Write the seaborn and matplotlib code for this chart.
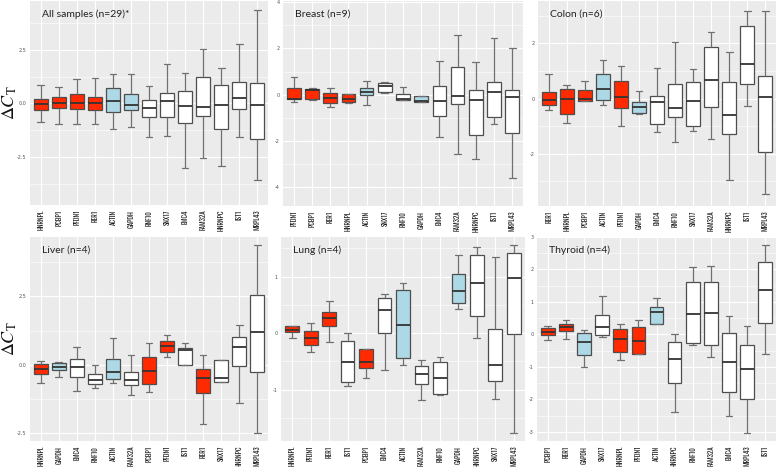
import numpy as np
import pandas as pd
import matplotlib
matplotlib.use("Agg")
import matplotlib.pyplot as plt
from matplotlib import font_manager
from matplotlib.ticker import MultipleLocator
import seaborn as sns

# five-number summaries: low whisker, Q1, median, Q3, high whisker
all_genes = ["HNRNPL", "PCBP1", "PFDN1", "RER1", "ACTIN", "GAPDH", "RNF10",
             "SNX17", "EMC4", "FAM32A", "HNRNPC", "IST1", "MRPL43"]
all_lo = [-0.89, -0.98, -0.98, -0.98, -1.18, -1.12, -1.55, -1.52, -3.01, -2.56, -2.92, -1.58, -3.57]
all_q1 = [-0.31, -0.22, -0.28, -0.31, -0.42, -0.30, -0.65, -0.65, -0.93, -0.59, -1.18, -0.28, -1.68]
all_med = [-0.03, 0.03, 0.0, 0.0, 0.12, -0.06, -0.23, 0.11, -0.14, -0.17, -0.09, 0.23, -0.09]
all_q3 = [0.20, 0.28, 0.42, 0.31, 0.73, 0.43, 0.16, 0.48, 0.56, 1.23, 0.85, 1.01, 0.93]
all_hi = [0.84, 0.78, 1.15, 1.20, 1.38, 1.38, 0.81, 1.86, 1.43, 2.55, 1.66, 2.75, 4.35]

breast_genes = ["PFDN1", "PCBP1", "RER1", "HNRNPL", "ACTIN", "SNX17", "RNF10",
                "GAPDH", "EMC4", "FAM32A", "HNRNPC", "IST1", "MRPL43"]
breast_lo = [-0.29, -0.23, -0.54, -0.37, -0.46, 0.07, -0.21, -0.30, -1.84, -2.57, -2.76, -1.24, -3.59]
breast_q1 = [-0.20, -0.17, -0.36, -0.30, -0.01, 0.10, -0.21, -0.30, -0.91, -0.40, -1.73, -0.96, -1.67]
breast_med = [-0.17, 0.20, -0.13, -0.19, 0.10, 0.39, -0.19, -0.26, -0.26, -0.06, -0.21, 0.11, -0.11]
breast_q3 = [0.29, 0.27, 0.07, 0.03, 0.29, 0.50, 0.03, -0.07, 0.39, 1.21, 0.21, 0.57, 0.19]
breast_hi = [0.76, 0.30, 0.29, 0.05, 0.59, 0.56, 0.33, -0.07, 1.44, 2.59, 1.41, 2.47, 2.00]

colon_genes = ["RER1", "HNRNPL", "PCBP1", "ACTIN", "PFDN1", "GAPDH", "EMC4",
               "RNF10", "SNX17", "FAM32A", "HNRNPC", "IST1", "MRPL43"]
colon_lo = [-0.43, -0.90, -0.10, -0.25, -0.98, -0.57, -1.20, -1.58, -1.16, -1.45, -2.95, -0.28, -3.45]
colon_q1 = [-0.25, -0.55, -0.10, -0.06, -0.34, -0.52, -0.94, -0.66, -1.01, -0.30, -1.30, 0.54, -1.92]
colon_med = [-0.07, 0.0, -0.02, 0.33, 0.07, -0.31, -0.14, -0.33, -0.08, 0.66, -0.59, 1.25, 0.07]
colon_q3 = [0.23, 0.33, 0.30, 0.88, 0.65, -0.12, 0.10, 0.53, 0.60, 1.88, 0.61, 2.61, 0.83]
colon_hi = [0.89, 0.49, 0.63, 1.40, 1.16, 0.29, 1.11, 2.05, 1.08, 2.40, 1.69, 3.18, 3.18]

liver_genes = ["HNRNPL", "GAPDH", "EMC4", "RNF10", "ACTIN", "FAM32A", "PCBP1",
               "PFDN1", "IST1", "RER1", "SNX17", "HNRNPC", "MRPL43"]
liver_lo = [-0.67, -0.45, -0.95, -0.84, -0.67, -1.10, -0.99, 0.27, -0.01, -2.16, -0.63, -1.41, -2.49]
liver_q1 = [-0.34, -0.18, -0.43, -0.70, -0.52, -0.73, -0.70, 0.46, -0.01, -1.04, -0.61, -0.05, -0.27]
liver_med = [-0.16, -0.06, -0.09, -0.55, -0.26, -0.54, -0.23, 0.68, 0.55, -0.48, -0.49, 0.65, 1.21]
liver_q3 = [0.02, 0.07, 0.23, -0.34, 0.22, -0.27, 0.28, 0.87, 0.60, -0.15, 0.17, 1.00, 2.55]
liver_hi = [0.15, 0.09, 0.66, 0.01, 0.98, 0.37, 0.79, 1.09, 0.79, 0.35, 0.17, 1.44, 4.37]

lung_genes = ["HNRNPL", "PFDN1", "RER1", "IST1", "PCBP1", "EMC4", "ACTIN",
              "FAM32A", "RNF10", "GAPDH", "HNRNPC", "SNX17", "MRPL43"]
lung_lo = [-0.08, -0.33, -0.15, -0.93, -0.80, -0.65, -0.56, -1.19, -1.09, 0.43, -0.09, -1.17, -1.76]
lung_q1 = [0.02, -0.22, 0.12, -0.87, -0.62, 0.01, -0.45, -0.91, -1.07, 0.53, 0.30, -0.85, -0.02]
lung_med = [0.06, -0.09, 0.27, -0.52, -0.51, 0.41, 0.15, -0.72, -0.80, 0.75, 0.89, -0.56, 0.97]
lung_q3 = [0.13, 0.04, 0.38, -0.14, -0.28, 0.62, 0.76, -0.59, -0.51, 1.05, 1.38, 0.07, 1.42]
lung_hi = [0.13, 0.17, 0.56, 0.01, -0.28, 0.70, 0.89, -0.47, -0.43, 1.38, 1.53, 1.35, 1.55]

thyroid_genes = ["PCBP1", "RER1", "GAPDH", "SNX17", "HNRNPL", "PFDN1", "ACTIN",
                 "HNRNPC", "RNF10", "FAM32A", "EMC4", "MRPL43", "IST1"]
thyroid_lo = [-0.17, -0.13, -1.01, -0.08, -0.79, -0.59, 0.31, -2.38, -0.31, -0.69, -2.50, -3.03, -0.61]
thyroid_q1 = [-0.03, 0.11, -0.62, -0.03, -0.54, -0.59, 0.31, -1.50, -0.25, -0.31, -1.77, -1.99, 0.35]
thyroid_med = [0.08, 0.24, -0.23, 0.22, -0.14, -0.21, 0.69, -0.75, 0.64, 0.66, -0.84, -1.07, 1.37]
thyroid_q3 = [0.19, 0.32, 0.04, 0.61, 0.16, 0.22, 0.83, -0.23, 1.62, 1.60, 0.03, -0.31, 2.23]
thyroid_hi = [0.27, 0.45, 0.15, 1.17, 0.31, 0.43, 1.13, 0.00, 2.07, 2.10, 0.57, 0.25, 2.74]

red_genes = ["HNRNPL", "PCBP1", "PFDN1", "RER1"]
blue_genes = ["ACTIN", "GAPDH"]

panels = [
    ("All samples (n=29)*", all_genes, [all_lo, all_q1, all_med, all_q3, all_hi]),
    ("Breast (n=9)", breast_genes, [breast_lo, breast_q1, breast_med, breast_q3, breast_hi]),
    ("Colon (n=6)", colon_genes, [colon_lo, colon_q1, colon_med, colon_q3, colon_hi]),
    ("Liver (n=4)", liver_genes, [liver_lo, liver_q1, liver_med, liver_q3, liver_hi]),
    ("Lung (n=4)", lung_genes, [lung_lo, lung_q1, lung_med, lung_q3, lung_hi]),
    ("Thyroid (n=4)", thyroid_genes, [thyroid_lo, thyroid_q1, thyroid_med, thyroid_q3, thyroid_hi]),
]

# axes boxes in pixels: left, top, right, bottom
boxes_px = [(30, 1, 268, 205), (283, 1, 523, 206), (538, 1, 776, 206),
            (30, 237, 268, 441), (281, 237, 525, 441), (537, 237, 776, 441)]
ylims = [(-4.75, 4.78), (-4.8, 4.05), (-3.89, 3.53), (-2.78, 4.67), (-1.91, 1.70), (-3.28, 3.0)]
major = [2.5, 2, 2, 2.5, 1, 1]

# pick a condensed face for the gene labels if one is installed
avail = {f.name for f in font_manager.fontManager.ttflist}
narrow = next((n for n in ["Oswald", "Roboto Condensed", "Archivo Narrow", "PT Sans Narrow"]
               if n in avail), None)
if narrow:
    xfont, xsize = [narrow, "DejaVu Sans"], 5.0
else:
    xfont, xsize = ["DejaVu Sans"], 3.8
title_font = [n for n in ["Lato", "Open Sans"] if n in avail] + ["DejaVu Sans"]

W, H = 778, 467
sns.set_theme(style="darkgrid")
plt.rcParams["mathtext.fontset"] = "stix"
fig = plt.figure(figsize=(W / 100, H / 100), dpi=100)


def gene_color(g):
    if g in red_genes:
        return "#FF2A00"
    if g in blue_genes:
        return "#ADD8E6"
    return "white"


for (title, genes, stats), (x0, y0, x1, y1), ylim, step in zip(panels, boxes_px, ylims, major):
    ax = fig.add_axes([x0 / W, 1 - y1 / H, (x1 - x0) / W, (y1 - y0) / H])
    rows = []
    for i, g in enumerate(genes):
        for s in stats:
            rows.append({"gene": g, "dct": s[i]})
    df = pd.DataFrame(rows)
    pal = {g: gene_color(g) for g in genes}
    sns.boxplot(data=df, x="gene", y="dct", hue="gene", palette=pal, order=genes,
                whis=(0, 100), width=0.75, linecolor="#4d4d4d", linewidth=0.9,
                saturation=1, legend=False, ax=ax,
                medianprops={"color": "#333333", "linewidth": 1.3},
                whiskerprops={"color": "#707070"}, capprops={"color": "#707070"})
    ax.set_facecolor("#EBEBEB")
    ax.set_ylim(*ylim)
    ax.set_xlim(-0.6, len(genes) - 0.4)
    ax.yaxis.set_major_locator(MultipleLocator(step))
    ax.yaxis.set_minor_locator(MultipleLocator(step / 2))
    ax.grid(True, which="major", color="white", linewidth=0.8)
    ax.grid(True, which="minor", axis="y", color="white", linewidth=0.4)
    ax.set_axisbelow(True)
    for sp in ax.spines.values():
        sp.set_visible(False)
    ax.set_xlabel("")
    ax.set_ylabel("")
    if step == 2.5:
        ax.yaxis.set_major_formatter(plt.FuncFormatter(lambda v, p: f"{v:.1f}"))
    else:
        ax.yaxis.set_major_formatter(plt.FuncFormatter(lambda v, p: f"{v:.0f}"))
    ax.tick_params(axis="y", labelsize=3.5, labelcolor="#555555", length=1.5,
                   width=0.5, color="#555555", pad=1)
    ax.tick_params(axis="x", labelsize=xsize, labelcolor="#1a1a1a", length=1.5,
                   width=0.5, color="#555555", pad=2, rotation=90)
    for lab in ax.get_xticklabels():
        lab.set_family(xfont)
        lab.set_fontweight("bold")
    ax.text(0.05, 0.96, title, transform=ax.transAxes, ha="left", va="top",
            fontsize=7.5, color="#222222", family=title_font)

for yc in [(1 + 205) / 2, (237 + 441) / 2]:
    fig.text(9.5 / W, 1 - yc / H, r"$\Delta C_\mathrm{T}$", rotation=90, ha="center",
             va="center", fontsize=13, color="#111111")

fig.savefig("out.png", dpi=100)
